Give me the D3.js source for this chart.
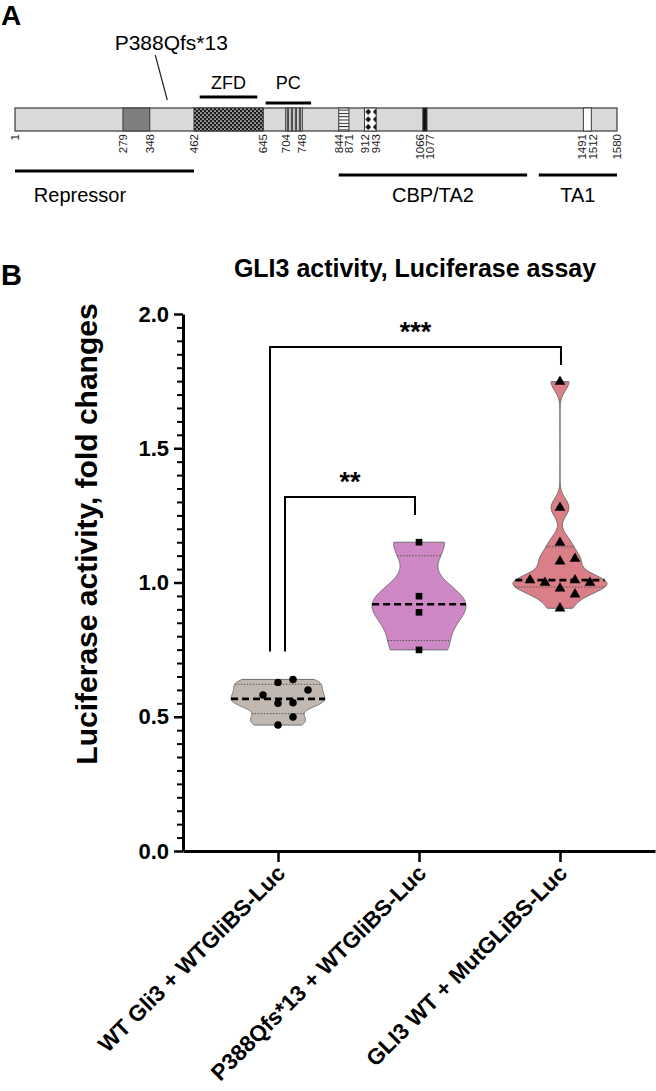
<!DOCTYPE html>
<html><head><meta charset="utf-8">
<script src="https://cdn.jsdelivr.net/npm/d3@7"></script>
<style>body{margin:0;background:#fff}svg{display:block}</style>
</head><body>
<svg id="c" width="656" height="1091"></svg>
<script>
// ---------- Panel A data ----------
const positionLabels = [1, 279, 348, 462, 645, 704, 748, 844, 871, 912, 943, 1066, 1077, 1491, 1512, 1580];
const domainStarts = [279, 462, 704, 844, 912, 1066, 1491];
const domainEnds   = [348, 645, 748, 871, 943, 1077, 1512];
const domainKinds  = ["dark", "zfd", "vstripe", "hstripe", "diamond", "black", "white"];
const featureNames  = ["ZFD", "PC"];
const featureStarts = [477, 651];
const featureEnds   = [629, 771];
const regionNames  = ["Repressor", "CBP/TA2", "TA1"];
const regionStarts = [1, 844, 1373];
const regionEnds   = [462, 1342, 1580];
const variantName = "P388Qfs*13";
const variantPos = 388;

// ---------- Panel B data ----------
const groups = ["WT Gli3 + WTGliBS-Luc", "P388Qfs*13 + WTGliBS-Luc", "GLI3 WT + MutGLiBS-Luc"];
const wtValues    = [0.639, 0.628, 0.600, 0.581, 0.552, 0.550, 0.499, 0.469];
const mutValues   = [1.150, 0.949, 0.889, 0.749];
const mutBsValues = [1.748, 1.279, 1.148, 1.089, 1.079, 1.009, 1.009, 0.999, 0.999, 0.978, 0.956, 0.904];
const yTicks = [0.0, 0.5, 1.0, 1.5, 2.0];
const compFrom  = [0, 0];
const compTo    = [2, 1];
const compY     = [1.877, 1.318];
const compLabel = ["***", "**"];

const F = "Arial, 'Liberation Sans', Helvetica, sans-serif";
const svg = d3.select("#c");

// ================= PANEL A =================
svg.append("text").attr("x", 1).attr("y", 25).attr("font-family", F).attr("font-weight", "bold")
  .attr("font-size", 28).text("A");

const xA = d3.scaleLinear().domain([1, 462, 1077, 1580]).range([15, 194, 427, 617]);
const barTop = 108, barH = 23;

const defs = svg.append("defs");
const pz = defs.append("pattern").attr("id", "pzfd").attr("patternUnits", "userSpaceOnUse")
  .attr("width", 4).attr("height", 4);
pz.append("rect").attr("width", 4).attr("height", 4).attr("fill", "#1a1a1a");
pz.append("circle").attr("cx", 1).attr("cy", 1).attr("r", 0.85).attr("fill", "#fff");
pz.append("circle").attr("cx", 3).attr("cy", 3).attr("r", 0.85).attr("fill", "#fff");
const pv = defs.append("pattern").attr("id", "pvs").attr("patternUnits", "userSpaceOnUse")
  .attr("width", 4).attr("height", 4).attr("x", xA(704));
pv.append("rect").attr("width", 4).attr("height", 4).attr("fill", "#d9d9d9");
pv.append("rect").attr("x", 1.5).attr("width", 1.6).attr("height", 4).attr("fill", "#111");
const ph = defs.append("pattern").attr("id", "phs").attr("patternUnits", "userSpaceOnUse")
  .attr("width", 4).attr("height", 3.3).attr("y", barTop);
ph.append("rect").attr("width", 4).attr("height", 3.3).attr("fill", "#fff");
ph.append("rect").attr("y", 1.6).attr("width", 4).attr("height", 1).attr("fill", "#222");
const pd = defs.append("pattern").attr("id", "pdia").attr("patternUnits", "userSpaceOnUse")
  .attr("width", 7.5).attr("height", 7.6).attr("x", xA(912)).attr("y", barTop);
pd.append("rect").attr("width", 7.5).attr("height", 7.6).attr("fill", "#fff");
pd.append("path").attr("d", "M3.75,0.6L6.6,3.8L3.75,7L0.9,3.8Z").attr("fill", "#111");

const kindFill = {dark: "#7f7f7f", zfd: "url(#pzfd)", vstripe: "url(#pvs)", hstripe: "url(#phs)",
  diamond: "url(#pdia)", black: "#111", white: "#fff"};

svg.append("rect").attr("x", xA(1)).attr("y", barTop).attr("width", xA(1580) - xA(1)).attr("height", barH)
  .attr("fill", "#d9d9d9").attr("stroke", "#3a3a3a").attr("stroke-width", 1.2);
svg.append("g").selectAll("rect").data(domainStarts).join("rect")
  .attr("x", (d) => xA(d)).attr("y", barTop)
  .attr("width", (d, i) => xA(domainEnds[i]) - xA(d)).attr("height", barH)
  .attr("fill", (d, i) => kindFill[domainKinds[i]])
  .attr("stroke", "#3a3a3a").attr("stroke-width", 1);

const labX = positionLabels.map((p) => xA(p));
for (let it = 0; it < 4; it++) {
  for (let i = 1; i < labX.length; i++) {
    const gap = labX[i] - labX[i - 1];
    if (gap < 10.5) { const s = (10.5 - gap) / 2; labX[i - 1] -= s; labX[i] += s; }
  }
}
svg.append("g").selectAll("text").data(positionLabels).join("text")
  .attr("transform", (d, i) => `translate(${labX[i]},134) rotate(-90)`)
  .attr("dy", "0.35em").attr("text-anchor", "end")
  .attr("font-family", F).attr("font-size", 11.5).attr("fill", "#222").text((d) => d);

featureNames.forEach((n, i) => {
  const yy = i === 0 ? 97 : 103;
  svg.append("line").attr("x1", xA(featureStarts[i])).attr("x2", xA(featureEnds[i]))
    .attr("y1", yy).attr("y2", yy).attr("stroke", "#000").attr("stroke-width", 3);
  svg.append("text").attr("x", (xA(featureStarts[i]) + xA(featureEnds[i])) / 2).attr("y", 89)
    .attr("text-anchor", "middle").attr("font-family", F).attr("font-size", 18).text(n);
});

const vx = xA(variantPos);
svg.append("line").attr("x1", vx - 10).attr("y1", 55).attr("x2", vx + 2).attr("y2", 100)
  .attr("stroke", "#222").attr("stroke-width", 1.2);
svg.append("text").attr("x", vx + 6).attr("y", 50).attr("text-anchor", "middle")
  .attr("font-family", F).attr("font-size", 21).text(variantName);

regionNames.forEach((n, i) => {
  const x1 = xA(regionStarts[i]), x2 = xA(regionEnds[i]);
  const yy = i === 0 ? 171 : 175;
  svg.append("line").attr("x1", x1).attr("x2", x2).attr("y1", yy).attr("y2", yy)
    .attr("stroke", "#000").attr("stroke-width", 3);
  svg.append("text").attr("x", i === 0 ? x1 + 65 : (x1 + x2) / 2).attr("y", 202)
    .attr("text-anchor", "middle").attr("font-family", F).attr("font-size", 20).text(n);
});

// ================= PANEL B =================
svg.append("text").attr("x", 1).attr("y", 285).attr("font-family", F).attr("font-weight", "bold")
  .attr("font-size", 29).text("B");
svg.append("text").attr("x", 415).attr("y", 277).attr("text-anchor", "middle").attr("font-family", F)
  .attr("font-weight", "bold").attr("font-size", 25).text("GLI3 activity, Luciferase assay");

const y = d3.scaleLinear().domain([0, 2]).range([851, 314]);
const x = d3.scalePoint().domain(groups).range([183, 655]).padding(0.674);

svg.append("text").attr("transform", "translate(97,534) rotate(-90)").attr("text-anchor", "middle")
  .attr("font-family", F).attr("font-weight", "bold").attr("font-size", 30)
  .text("Luciferase activity, fold changes");

const minor = d3.range(0, 2.0001, 0.05).filter((v) => Math.abs(v * 2 - Math.round(v * 2)) > 1e-6);
svg.append("g").attr("transform", "translate(183,0)")
  .call(d3.axisLeft(y).tickValues(minor).tickSize(6).tickFormat(""))
  .call((g) => g.select(".domain").remove())
  .call((g) => g.selectAll("line").attr("stroke", "#000").attr("stroke-width", 2));
const yAxis = svg.append("g").attr("transform", "translate(183,0)")
  .call(d3.axisLeft(y).tickValues(yTicks).tickSize(9).tickSizeOuter(0).tickPadding(5).tickFormat(d3.format(".1f")));
yAxis.select(".domain").attr("stroke", "#000").attr("stroke-width", 3);
yAxis.selectAll("line").attr("stroke", "#000").attr("stroke-width", 2.5);
yAxis.selectAll("text").attr("font-family", F).attr("font-weight", "bold").attr("font-size", 22)
  .attr("fill", "#000");

const xAxis = svg.append("g").attr("transform", "translate(0,851)")
  .call(d3.axisBottom(x).tickSize(11).tickSizeOuter(0).tickFormat(""));
xAxis.select(".domain").attr("stroke", "#000").attr("stroke-width", 3);
xAxis.selectAll("line").attr("stroke", "#000").attr("stroke-width", 2.5);
svg.append("g").selectAll("text").data(groups).join("text")
  .attr("transform", (d) => `translate(${x(d) + 3},869) rotate(-45)`)
  .attr("dy", "0.35em").attr("text-anchor", "end")
  .attr("font-family", F).attr("font-weight", "bold").attr("font-size", 22.5).text((d) => d);

// ---- violins ----
const series = [wtValues, mutValues, mutBsValues];
const fills = ["#c1b9b1", "#cd88c5", "#da7e87"];
const shapes = [d3.symbolCircle, d3.symbolSquare, d3.symbolTriangle];
const symSize = [44, 44, 50];
const halfW = x.step() / 3;

function prismQuantile(sorted, p) {
  const n = sorted.length;
  let pos = (n + 1) * p;
  if (pos < 1) pos = 1;
  if (pos > n) pos = n;
  const lo = Math.floor(pos), frac = pos - lo;
  return lo >= n ? sorted[n - 1] : sorted[lo - 1] + frac * (sorted[lo] - sorted[lo - 1]);
}

series.forEach((vals, gi) => {
  const cx = x(groups[gi]);
  const s = vals.slice().sort(d3.ascending);
  const q1 = prismQuantile(s, 0.25), med = prismQuantile(s, 0.5), q3 = prismQuantile(s, 0.75);
  const bw = 0.22 * (q3 - q1);
  const kde = (v) => d3.sum(s, (d) => Math.exp(-0.5 * ((v - d) / bw) ** 2));
  const lo = s[0], hi = s[s.length - 1];
  const grid = d3.range(0, 161).map((k) => lo + (hi - lo) * k / 160);
  const dens = grid.map(kde);
  const dmax = d3.max(dens);
  const w = (v) => kde(v) / dmax * halfW;
  const area = d3.area().x0((d, i) => cx - dens[i] / dmax * halfW).x1((d, i) => cx + dens[i] / dmax * halfW)
    .y((d) => y(d)).curve(d3.curveLinear);
  const g = svg.append("g");
  g.append("path").attr("d", area(grid)).attr("fill", fills[gi]).attr("stroke", "#707070").attr("stroke-width", 1);
  [q1, q3].forEach((q) => {
    g.append("line").attr("x1", cx - w(q)).attr("x2", cx + w(q)).attr("y1", y(q)).attr("y2", y(q))
      .attr("stroke", "#555").attr("stroke-width", 1).attr("stroke-dasharray", "1.5,1.5");
  });
  g.append("line").attr("x1", cx - w(med)).attr("x2", cx + w(med)).attr("y1", y(med)).attr("y2", y(med))
    .attr("stroke", "#000").attr("stroke-width", 2.6).attr("stroke-dasharray", "7,4");

  const placed = [];
  const step = 15, minD = 14;
  s.forEach((v) => {
    const py = y(v);
    let off = 0;
    for (let k = 0; k < 20; k++) {
      const cand = k === 0 ? 0 : (k % 2 ? 1 : -1) * Math.ceil(k / 2) * step;
      if (placed.every((p) => Math.hypot(p.x - cand, p.y - py) >= minD)) { off = cand; break; }
    }
    placed.push({x: off, y: py});
  });
  g.selectAll(".pt").data(placed).join("path").attr("class", "pt")
    .attr("transform", (p) => `translate(${cx + p.x},${p.y})`)
    .attr("d", d3.symbol().type(shapes[gi]).size(symSize[gi])).attr("fill", "#000");
});

// ---- significance brackets ----
compFrom.forEach((f, i) => {
  const xl = x(groups[f]) + (i === 0 ? -8 : 7);
  const xr = x(groups[compTo[i]]) + (i === 0 ? 1 : -4);
  const yb = y(compY[i]);
  const legBottom = y(d3.max(series[f])) - 28;
  svg.append("path").attr("d", `M${xl},${legBottom}V${yb}H${xr}V${yb + 18}`)
    .attr("fill", "none").attr("stroke", "#000").attr("stroke-width", 2);
  svg.append("text").attr("x", (xl + xr) / 2).attr("y", yb - 6).attr("text-anchor", "middle")
    .attr("font-family", F).attr("font-weight", "bold").attr("font-size", 27).text(compLabel[i]);
});
</script>
</body></html>
